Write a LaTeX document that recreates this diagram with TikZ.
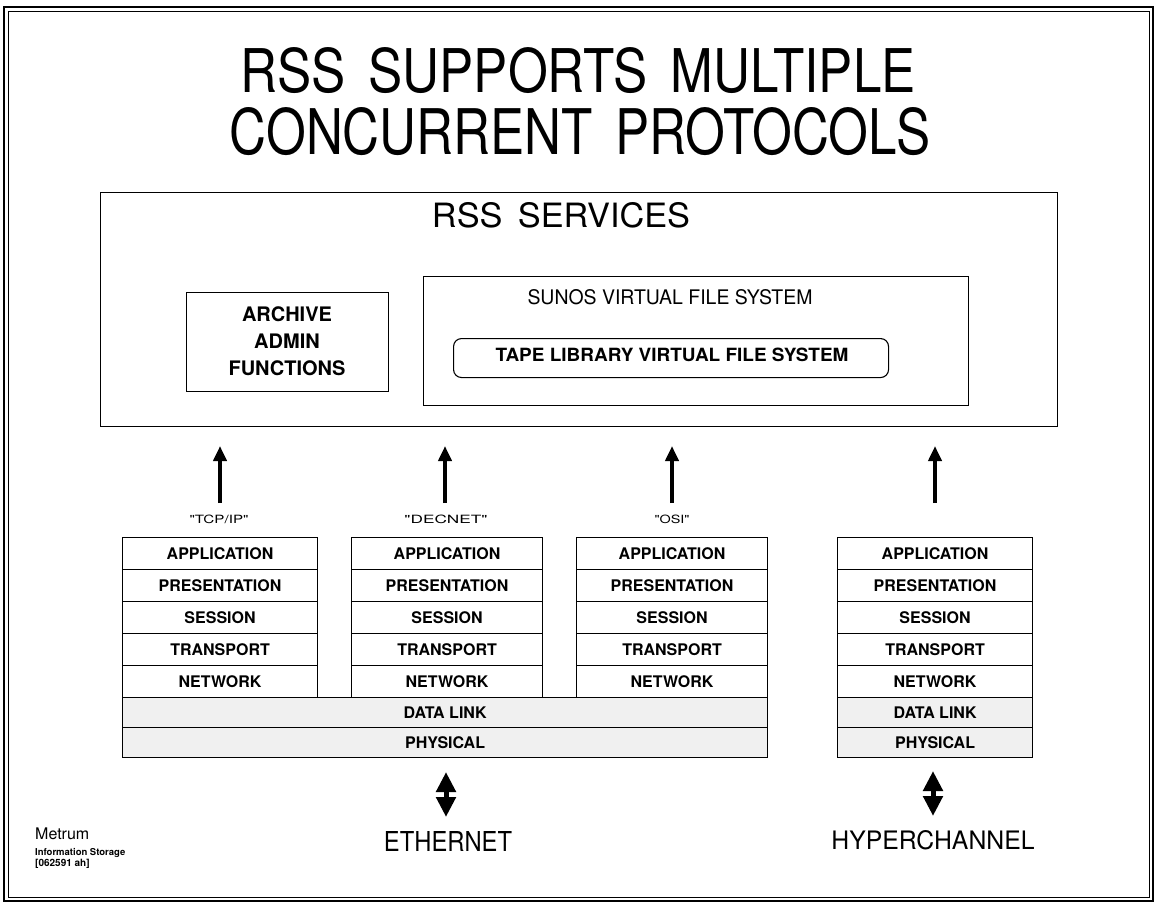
\documentclass[tikz,border=0pt]{standalone}
\usepackage{fontspec}
\setmainfont{TeX Gyre Heros}
\newfontfamily\qfont{TeX Gyre Heros}[Ligatures=TeXOff]
\usetikzlibrary{arrows.meta}
\newcommand{\fitt}[3]{\resizebox{#1pt}{#2pt}{#3}}
\newcommand{\wsp}{\hspace{0.45em}}
\begin{document}
\begin{tikzpicture}[x=1pt,y=-1pt,
  frame/.style={draw, line width=1.4pt, inner sep=0pt, anchor=north west},
  cell/.style={draw, line width=1.1pt, inner sep=0pt, anchor=north west,
    font=\fontsize{16}{18}\selectfont\bfseries},
  lowcell/.style={cell, fill=black!6},
  uparrow/.style={line width=4pt, -{Triangle[width=13pt,length=15pt]}},
  dblarrow/.style={line width=5pt, {Triangle[width=19pt,length=20pt]}-{Triangle[width=19pt,length=20pt]}},
  txt/.style={inner sep=0pt}]
\useasboundingbox (0,0) rectangle (1156,909);
% outer frame
\draw[line width=2.2pt] (4,7) rectangle (1153,901);
\draw[line width=0.7pt] (8,11) rectangle (1149,897);

% title
\node[txt] (t1) at (578,70.5) {\fitt{675}{45}{RSS\wsp SUPPORTS\wsp MULTIPLE}};
\node[txt] (t2) at (580,131.5) {\fitt{700}{47}{CONCURRENT\wsp PROTOCOLS}};

% RSS services
\node[frame, minimum width=957pt, minimum height=234pt] (rss) at (100,192) {};
\node[txt] (rsst) at (561,215) {\fitt{258}{25}{RSS\wsp SERVICES}};
\node[frame, line width=1.1pt, minimum width=202pt, minimum height=99pt] (arch) at (186,292) {};
\node[txt, align=center, font=\fontsize{20}{27}\selectfont\bfseries] (archt) at (287,341) {ARCHIVE\\ADMIN\\FUNCTIONS};
\node[frame, line width=1.1pt, minimum width=545pt, minimum height=129pt] (sunos) at (423,276) {};
\node[txt] (sunost) at (670,297.5) {\fitt{285}{15}{SUNOS VIRTUAL FILE SYSTEM}};
\node[frame, line width=1.1pt, rounded corners=8pt, minimum width=435pt, minimum height=39pt] (tape) at (453,338) {};
\node[txt] (tapet) at (672,355) {\fitt{353}{13.5}{\bfseries TAPE LIBRARY VIRTUAL FILE SYSTEM}};

% protocol labels
\node[txt] (lab1) at (219,519) {\fitt{59}{8.5}{\qfont "TCP/IP"}};
\node[txt] (lab2) at (446,519) {\fitt{83}{8.5}{\qfont "DECNET"}};
\node[txt] (lab3) at (672,519) {\fitt{35}{8.5}{\qfont "OSI"}};

% stacks
\foreach \nm/\xl/\w in {tcp/122/195, dec/351/191, osi/576/191, hyp/837/195}{
  \foreach \lab [count=\i from 0] in {APPLICATION,PRESENTATION,SESSION,TRANSPORT,NETWORK}{
    \node[cell, minimum width=\w pt, minimum height=32pt] (\nm\i) at (\xl,537+32*\i) {\lab};
  }
}
\node[lowcell, minimum width=645pt, minimum height=30pt] (ethdl) at (122,697) {DATA LINK};
\node[lowcell, minimum width=645pt, minimum height=30pt] (ethph) at (122,727) {PHYSICAL};
\node[lowcell, minimum width=195pt, minimum height=30pt] (hypdl) at (837,697) {DATA LINK};
\node[lowcell, minimum width=195pt, minimum height=30pt] (hypph) at (837,727) {PHYSICAL};

% up arrows
\coordinate (a1s) at (220,503); \coordinate (a1e) at (220,446);
\coordinate (a2s) at (445,503); \coordinate (a2e) at (445,446);
\coordinate (a3s) at (672,503); \coordinate (a3e) at (672,446);
\coordinate (a4s) at (935,503); \coordinate (a4e) at (935,446);
\draw[uparrow] (a1s) -- (a1e);
\draw[uparrow] (a2s) -- (a2e);
\draw[uparrow] (a3s) -- (a3e);
\draw[uparrow] (a4s) -- (a4e);

% network links
\node[txt] (eth) at (448,841) {\fitt{128}{20}{ETHERNET}};
\node[txt] (hch) at (933,840) {\fitt{203}{19}{HYPERCHANNEL}};
\coordinate (d1t) at (446,772); \coordinate (d1b) at (446,817);
\coordinate (d2t) at (933,771); \coordinate (d2b) at (933,816);
\draw[dblarrow] (d1t) -- (d1b);
\draw[dblarrow] (d2t) -- (d2b);

% footer
\node[txt, anchor=base west, font=\fontsize{16}{18}\selectfont] (m1) at (35,839) {Metrum};
\node[txt, anchor=base west, font=\fontsize{9.5}{11}\selectfont\bfseries] (m2) at (35,855) {Information Storage};
\node[txt, anchor=base west, font=\fontsize{10}{11}\selectfont\bfseries] (m3) at (35,866) {[062591 ah]};
\end{tikzpicture}
\end{document}
